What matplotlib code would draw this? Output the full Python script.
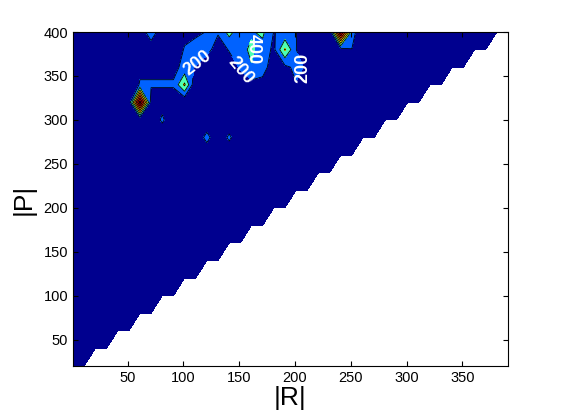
import numpy as np
import matplotlib
matplotlib.use("Agg")
import matplotlib.pyplot as plt

plt.rcParams['font.family'] = ['Liberation Sans', 'DejaVu Sans']

# grid of the surface
r_grid = np.arange(1, 392, 10)    # |R|
p_grid = np.arange(20, 401, 20)   # |P|

# cells that rise above the flat floor (value 0 elsewhere)
cell_r = [71, 101, 111, 121, 131, 141, 151, 161, 171, 181, 191, 201, 241, 251,
          101, 111, 121, 131, 141, 151, 161, 171, 181, 191, 201, 241, 251,
          61, 71, 81, 91, 101, 111, 141, 151, 161, 171, 181, 191, 201, 211,
          61, 71, 81, 91, 101, 151, 161, 171, 201,
          61, 71, 81, 91,
          81, 121, 141]
cell_p = [400] * 14 + [380] * 13 + [360] * 14 + [340] * 9 + [320] * 4 + [300, 280, 280]
cell_z = [390, 120, 150, 210, 230, 470, 280, 380, 440, 195, 230, 210, 1500, 300,
          222, 300, 300, 60, 220, 350, 430, 330, 150, 620, 205, 100, 195,
          150, 150, 150, 150, 250, 190, 50, 230, 390, 260, 120, 150, 250, 170,
          220, 220, 220, 220, 640, 60, 130, 150, 190,
          1500, 100, 100, 100,
          244, 285, 250]

levels = [0, 200, 400, 600, 800, 1000, 1200, 1400, 1600]
band_colors = ['#00008F', '#0062FF', '#4DFFB2', '#FFFF00', '#FFA000',
               '#FF4000', '#DF0000', '#8F0000']

R, P = np.meshgrid(r_grid, p_grid)
Z = np.zeros(R.shape)
for r, p, z in zip(cell_r, cell_p, cell_z):
    Z[list(p_grid).index(p), list(r_grid).index(r)] = z
Z = np.ma.masked_where(R >= P, Z)

fig = plt.figure(figsize=(5.61, 4.2), dpi=100)
ax = fig.add_axes([73 / 561, 54 / 420, 435 / 561, 334 / 420])

ax.contourf(R, P, Z, levels=levels, colors=band_colors, corner_mask=True)
line_kw = dict(colors='k', linewidths=0.6, corner_mask=True)
cs200 = ax.contour(R, P, Z, levels=[200], **line_kw)
cs400 = ax.contour(R, P, Z, levels=[400], **line_kw)
ax.contour(R, P, Z, levels=levels[3:-1], **line_kw)

lab_kw = dict(inline=True, fmt='%d', colors='white', fontsize=13,
              inline_spacing=1)
t200 = cs200.clabel(manual=[(113, 364), (148, 353), (207, 359)], **lab_kw)
t400 = cs400.clabel(manual=[(162, 381)], **lab_kw)
for t, rot in zip(list(t200) + list(t400), [38, -50, 90, -90]):
    t.set_fontweight('bold')
    t.set_rotation(rot)
t400[0].set_position((163, 381))

ax.set_xlim(1, 391)
ax.set_ylim(20, 400)
ax.set_xticks(np.arange(50, 351, 50))
ax.set_yticks(np.arange(50, 401, 50))
ax.tick_params(direction='in', top=True, right=True, length=3.6, width=0.8,
               labelsize=10.5)
for s in ax.spines.values():
    s.set_linewidth(0.8)

ax.set_xlabel('|R|', fontsize=19, labelpad=1)
ax.set_ylabel('|P|', fontsize=19, labelpad=6)

fig.savefig('out.png', dpi=100)
